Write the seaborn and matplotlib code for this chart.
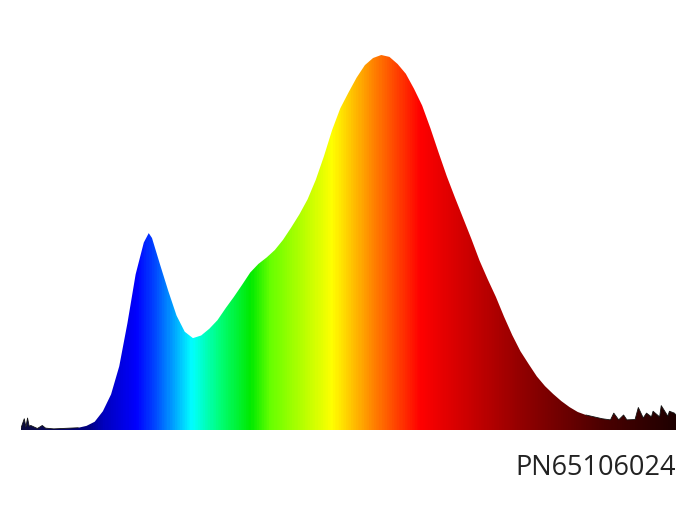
import numpy as np
import pandas as pd
import seaborn as sns
import matplotlib.pyplot as plt
from matplotlib.colors import LinearSegmentedColormap

# spectrum (relative intensity, peak = 1)
wavelength = [380, 382, 383, 384, 385, 386, 390, 393, 395, 400, 405, 410, 415,
              420, 425, 430, 435, 440, 445, 450, 455, 458, 460, 465, 470, 475,
              480, 485, 490, 495, 500, 505, 510, 515, 520, 525, 530, 535, 540,
              545, 550, 555, 560, 565, 570, 575, 580, 585, 590, 595, 600, 605,
              610, 615, 620, 625, 630, 635, 640, 645, 650, 655, 660, 665, 670,
              675, 680, 685, 690, 695, 700, 705, 710, 715, 720, 725, 730, 735,
              740, 742, 745, 748, 750, 755, 757, 760, 762, 765, 766, 770, 771,
              775, 776, 779, 780]
intensity = [0.005, 0.030, 0.008, 0.032, 0.010, 0.012, 0.004, 0.012, 0.005,
             0.003, 0.004, 0.005, 0.006, 0.011, 0.022, 0.050, 0.095, 0.170,
             0.285, 0.415, 0.500, 0.525, 0.512, 0.440, 0.370, 0.305, 0.262,
             0.245, 0.252, 0.270, 0.293, 0.325, 0.355, 0.387, 0.420, 0.443,
             0.460, 0.480, 0.507, 0.540, 0.575, 0.615, 0.667, 0.730, 0.800,
             0.858, 0.900, 0.940, 0.973, 0.992, 1.000, 0.995, 0.976, 0.950,
             0.910, 0.865, 0.805, 0.740, 0.677, 0.620, 0.565, 0.510, 0.452,
             0.402, 0.355, 0.302, 0.253, 0.210, 0.176, 0.143, 0.117, 0.096,
             0.077, 0.061, 0.048, 0.040, 0.035, 0.030, 0.027, 0.045, 0.027,
             0.040, 0.027, 0.028, 0.060, 0.032, 0.045, 0.035, 0.050, 0.035,
             0.065, 0.037, 0.050, 0.045, 0.040]
label = "PN65106024"

# colour of the light at each wavelength
stop_nm = [380, 420, 430, 450, 462, 484, 500, 520, 532, 570, 596, 624, 685, 735, 780]
stop_rgb = [(0.05, 0.05, 0.25), (0.0, 0.0, 0.5), (0.0, 0.0, 0.75), (0.0, 0.0, 1.0),
            (0.0, 0.3, 1.0), (0.0, 1.0, 1.0), (0.0, 1.0, 0.5), (0.0, 0.92, 0.0),
            (0.4, 1.0, 0.0), (1.0, 1.0, 0.0), (1.0, 0.5, 0.0), (1.0, 0.0, 0.0),
            (0.58, 0.0, 0.0), (0.3, 0.0, 0.0), (0.12, 0.0, 0.0)]

df = pd.DataFrame({"nm": wavelength, "value": intensity})
lo, hi = stop_nm[0], stop_nm[-1]
spectrum = LinearSegmentedColormap.from_list(
    "spectrum", [((n - lo) / (hi - lo), c) for n, c in zip(stop_nm, stop_rgb)])

sns.set_style("white")
plt.rcParams['font.family'] = ['Open Sans', 'DejaVu Sans']

fig = plt.figure(figsize=(7, 5.25), dpi=100)
ax = fig.add_axes([21 / 700, 1 - 430 / 525, 655 / 700, 375 / 525])

# gradient filled under the curve
fill = ax.fill_between(df["nm"], 0, df["value"], color="none", lw=0)
grad = ax.imshow(np.linspace(0, 1, 800)[None, :], cmap=spectrum, aspect="auto",
                 extent=[lo, hi, 0, 1], origin="lower", interpolation="bilinear")
grad.set_clip_path(fill.get_paths()[0], transform=ax.transData)

# dark noisy tails
tails = df[(df["nm"] <= 418) | (df["nm"] >= 725)].copy()
tails["part"] = np.where(tails["nm"] < 500, "left", "right")
sns.lineplot(data=tails, x="nm", y="value", units="part", estimator=None,
             color="#151515", lw=0.6, ax=ax)

ax.set_xlim(lo, hi)
ax.set_ylim(0, 1.0)
ax.axis("off")

fig.text(676 / 700, 1 - 468 / 525, label, ha="right", va="center",
         fontsize=19.5, color="#222222")

fig.savefig("out.png", dpi=100)
plt.close()
